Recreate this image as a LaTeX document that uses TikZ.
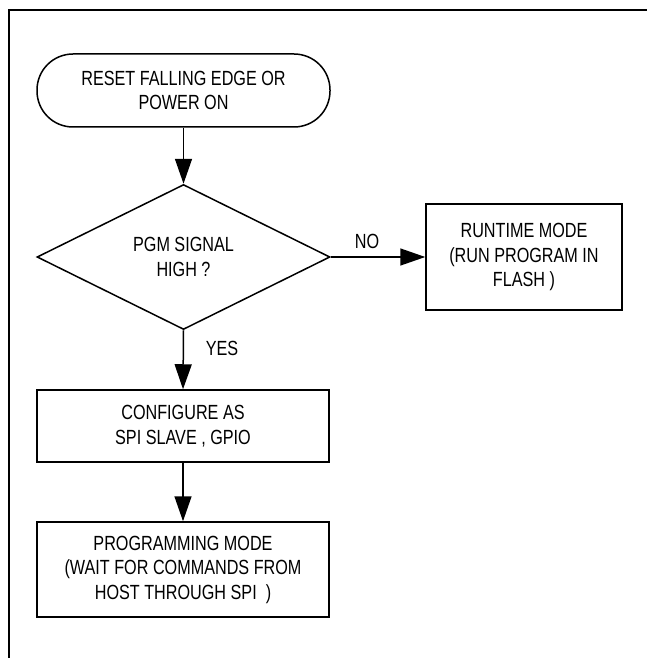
\documentclass[tikz,border=0pt]{standalone}
\usepackage{fontspec}
\setmainfont{Liberation Sans}[FakeStretch=0.79]
\usetikzlibrary{arrows.meta,shapes.geometric}
\begin{document}
\begin{tikzpicture}[x=1pt,y=-1pt,
  every node/.style={font=\fontsize{20.5}{24.5}\selectfont, align=center},
  box/.style={draw, line width=1.5pt, rectangle, inner sep=0pt},
  term/.style={box, rounded corners=36pt, minimum width=293pt, minimum height=73pt},
  decision/.style={draw, line width=1.5pt, diamond, inner sep=0pt, minimum width=293pt, minimum height=145pt},
  conn/.style={line width=1.5pt, -{Triangle[length=25pt,width=17pt]}},
  lbl/.style={inner sep=0pt}]
\useasboundingbox (0,0) rectangle (647,658);
\draw[line width=1.8pt] (647,10) -- (9,10) -- (9,658);
\node[term] (start) at (183.5,90.5) {RESET FALLING EDGE OR\\POWER ON};
\node[decision] (dec) at (183.5,257) {PGM SIGNAL\\HIGH ?};
\node[box, minimum width=196pt, minimum height=106pt] (run) at (524,257) {RUNTIME MODE\\(RUN PROGRAM IN\\FLASH )};
\node[box, minimum width=292pt, minimum height=72pt] (cfg) at (183,426) {CONFIGURE AS\\SPI SLAVE , GPIO};
\node[box, minimum width=292pt, minimum height=95pt] (prog) at (183,569.5) {PROGRAMMING MODE\\(WAIT FOR COMMANDS FROM\\HOST THROUGH SPI\ \ )};
\draw[conn] (start.south) -- (dec.north);
\draw[conn] (dec.east) -- (run.west);
\draw[conn] (dec.south) -- (cfg.north);
\draw[conn] (cfg.south) -- (prog.north);
\node[lbl] (no) at (367,241) {NO};
\node[lbl] (yes) at (222,348) {YES};
\end{tikzpicture}
\end{document}
